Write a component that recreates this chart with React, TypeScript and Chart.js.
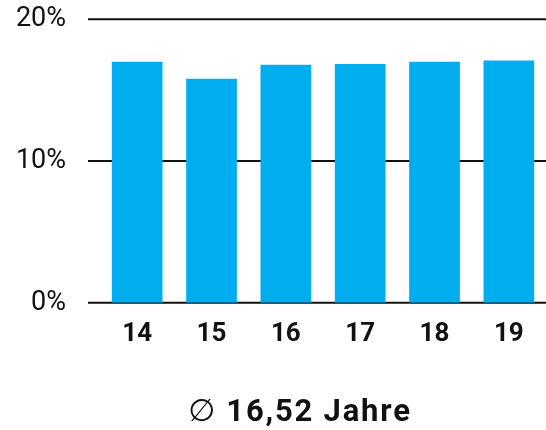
import React, { useEffect, useRef } from "react";
import { Chart, registerables } from "chart.js";

Chart.register(...registerables);

const categories: string[] = ["14", "15", "16", "17", "18", "19"];
const shares: number[] = [17.0, 15.8, 16.8, 16.85, 17.0, 17.1];
const yTicks: number[] = [0, 10, 20];
const averageLabel = "16,52 Jahre";
const diameterSign = "\u2205";

const BAR_COLOR = "#00AEEF";
const INK = "#111111";

const gridPlugin = {
  id: "hgrid",
  beforeDatasetsDraw(chart: any) {
    const y = chart.scales.y;
    const ctx = chart.ctx;
    ctx.save();
    ctx.strokeStyle = INK;
    ctx.lineWidth = 2;
    yTicks.forEach((v) => {
      const py = y.getPixelForValue(v);
      ctx.beginPath();
      ctx.moveTo(chart.chartArea.left - 12, py);
      ctx.lineTo(chart.width, py);
      ctx.stroke();
    });
    ctx.restore();
  },
};

export default function App() {
  const ref = useRef<HTMLCanvasElement | null>(null);

  useEffect(() => {
    if (!ref.current) return;
    const chart = new Chart(ref.current, {
      type: "bar",
      data: {
        labels: categories,
        datasets: [
          {
            data: shares,
            backgroundColor: BAR_COLOR,
            borderWidth: 0,
            categoryPercentage: 1,
            barPercentage: 0.682,
          },
        ],
      },
      options: {
        responsive: false,
        animation: false,
        devicePixelRatio: 1,
        layout: { padding: { top: 19.3, right: -3, bottom: 64, left: 0 } },
        plugins: {
          legend: { display: false },
          tooltip: { enabled: false },
          title: { display: false },
        },
        scales: {
          x: {
            grid: { display: false, drawTicks: false },
            border: { display: false },
            ticks: {
              color: INK,
              padding: 16,
              font: { family: "Roboto", size: 26, weight: "bold" },
            },
          },
          y: {
            min: 0,
            max: 20,
            afterBuildTicks: (scale: any) => {
              scale.ticks = yTicks.map((v) => ({ value: v }));
            },
            afterFit: (scale: any) => {
              scale.width = 100;
              scale.paddingTop = 0;
              scale.paddingBottom = 0;
            },
            grid: { display: false, drawTicks: false },
            border: { display: false },
            ticks: {
              color: INK,
              padding: 34,
              font: { family: "Roboto", size: 27 },
              callback: (v: any) => `${v}%`,
            },
          },
        },
      },
      plugins: [gridPlugin],
    });
    return () => chart.destroy();
  }, []);

  return (
    <div style={{ position: "absolute", left: 0, top: 0, width: 546, height: 430, background: "#fff" }}>
      <canvas ref={ref} width={546} height={430} style={{ display: "block" }} />
      <div
        style={{
          position: "absolute",
          left: 100,
          width: 400,
          top: 394.6,
          textAlign: "center",
          lineHeight: 1,
          fontFamily: "Roboto",
          fontSize: 31,
          color: INK,
          whiteSpace: "nowrap",
        }}
      >
        <span style={{ fontFamily: "'DejaVu Sans'", fontWeight: 400, marginRight: 11 }}>{diameterSign}</span>
        <span style={{ fontWeight: 700, letterSpacing: 1.8 }}>{averageLabel}</span>
      </div>
    </div>
  );
}
